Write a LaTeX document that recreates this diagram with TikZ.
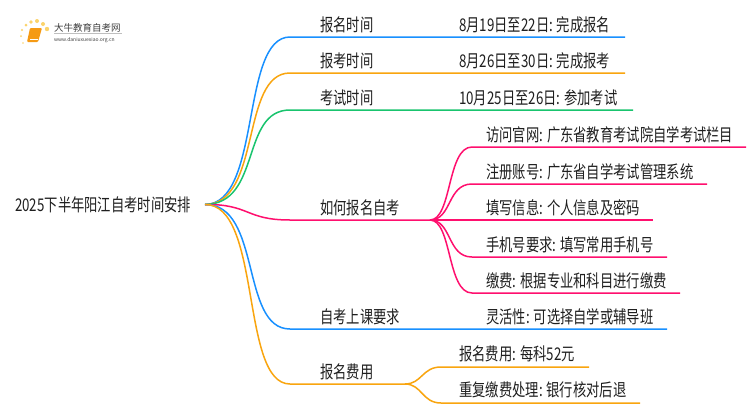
\documentclass[tikz,border=0pt]{standalone}
\usepackage{fontspec}
\setmainfont[FakeStretch=0.76]{Noto Sans CJK SC}
\newfontfamily\logofont{Noto Sans CJK SC}
\usetikzlibrary{positioning}
\definecolor{mblue}{HTML}{1890FF}
\definecolor{morange}{HTML}{F9A50F}
\definecolor{mgreen}{HTML}{19C46E}
\definecolor{mpink}{HTML}{FF0F6E}
\definecolor{mbook}{HTML}{F59A14}
\definecolor{mdot}{HTML}{FBD36B}
\tikzset{
	txt/.style={inner sep=0pt,anchor=base west,font=\fontsize{17.5}{18}\selectfont,text=black!88},
	branch/.style={line width=1.5pt},
	logotxt/.style={inner sep=0pt,anchor=base west,text=black!75},
}
\begin{document}
\begin{tikzpicture}[x=1pt,y=-1pt]
	\useasboundingbox (0,0) rectangle (750,410);
	\fill[white] (0,0) rectangle (750,410);
	% logo
	\foreach \a/\b/\r in {23/43/.8,21/36/1,22/30/1.2,26/25/1.5,31/22/1.8,37/21/2,43/24/2,47/29/2.2}
		\fill[mdot] (\a,\b) circle (\r);
	\fill[mbook,rounded corners=1pt] (30,28) -- (42,28) -- (38,42) -- (27,42) -- cycle;
	\draw[white,line width=.5pt] (30,39) -- (38,39);
	\node[logotxt,font=\logofont\fontsize{9.5}{10}\selectfont] (logoname) at (54,31) {大牛教育自考网};
	\draw[black!25,line width=.4pt] (54,33.5) -- (122,33.5);
	\node[logotxt,font=\logofont\fontsize{5}{6}\selectfont] (logourl) at (54,41) {www.daniuxuexiao.org.cn};
	% root
	\node[txt] (root) at (15,211) {2025下半年阳江自考时间安排};
	\coordinate (rootc) at (205,204.5);
	% first level
	\node[txt] (a1) at (320,31) {报名时间};
	\node[txt] (a2) at (320,67) {报考时间};
	\node[txt] (a3) at (320,104) {考试时间};
	\node[txt] (a4) at (320,214) {如何报名自考};
	\node[txt] (a5) at (320,323) {自考上课要求};
	\node[txt] (a6) at (320,378) {报名费用};
	% second level
	\node[txt] (b1) at (459,31) {8月19日至22日: 完成报名};
	\node[txt] (b2) at (459,67) {8月26日至30日: 完成报考};
	\node[txt] (b3) at (459,104) {10月25日至26日: 参加考试};
	\node[txt] (c1) at (486,141) {访问官网: 广东省教育考试院自学考试栏目};
	\node[txt] (c2) at (486,178) {注册账号: 广东省自学考试管理系统};
	\node[txt] (c3) at (486,214) {填写信息: 个人信息及密码};
	\node[txt] (c4) at (486,251) {手机号要求: 填写常用手机号};
	\node[txt] (c5) at (486,287) {缴费: 根据专业和科目进行缴费};
	\node[txt] (d1) at (486,323) {灵活性: 可选择自学或辅导班};
	\node[txt] (e1) at (459,360) {报名费用: 每科52元};
	\node[txt] (e2) at (459,396) {重复缴费处理: 银行核对后退};
	% line ends
	\coordinate (a1e) at (625,37);
	\coordinate (a2e) at (625,73);
	\coordinate (a3e) at (633,110);
	\coordinate (a4e) at (430,220);
	\coordinate (a5e) at (667,329);
	\coordinate (a6e) at (405,384);
	% connectors
	\draw[branch,mblue] (rootc) .. controls (262,204) and (240,37) .. (290,37) -- (a1e);
	\draw[branch,morange] (rootc) .. controls (262,204) and (240,73) .. (290,73) -- (a2e);
	\draw[branch,mgreen] (rootc) .. controls (262,204) and (240,110) .. (290,110) -- (a3e);
	\draw[branch,mpink] (rootc) .. controls (250,204) and (245,220) .. (290,220) -- (a4e);
	\draw[branch,mblue] (rootc) .. controls (262,204) and (240,329) .. (290,329) -- (a5e);
	\draw[branch,morange] (rootc) .. controls (262,204) and (240,384) .. (290,384) -- (a6e);
	\foreach \y/\e in {147/746,184/707,220/653,257/667,293/680}
		\draw[branch,mpink] (a4e) .. controls (452,220) and (447,\y) .. (472,\y) -- (\e,\y);
	\foreach \y/\e in {367/589,403/640}
		\draw[branch,morange] (a6e) .. controls (422,384) and (422,\y) .. (441,\y) -- (\e,\y);
\end{tikzpicture}
\end{document}
